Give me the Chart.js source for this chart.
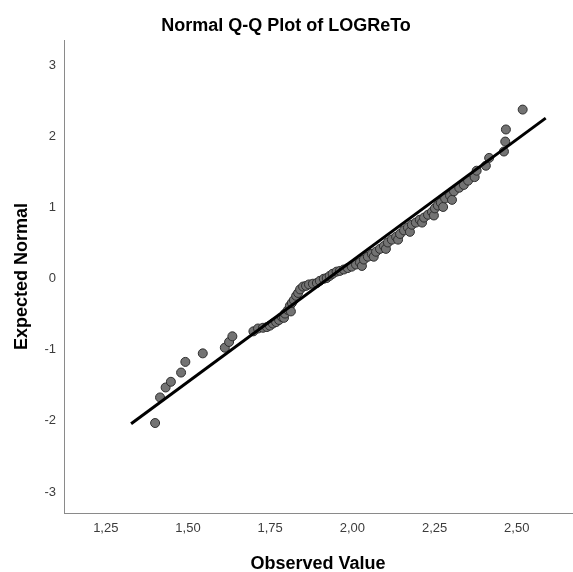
<!DOCTYPE html>
<html>
<head>
<meta charset="utf-8">
<script src="https://cdn.jsdelivr.net/npm/chart.js@4.4.1/dist/chart.umd.min.js"></script>
<style>
  body { margin: 0; background: #fff; }
  #wrap { width: 573px; height: 572px; }
</style>
</head>
<body>
<div id="wrap"><canvas id="qq" width="573" height="572"></canvas></div>
<script>
// valores observados (eje x)
const observed = [
  1.400, 1.415, 1.432, 1.448, 1.479, 1.492, 1.545, 1.612, 1.625, 1.635,
  1.699, 1.713, 1.728, 1.740, 1.749, 1.758, 1.768, 1.777, 1.786, 1.792,
  1.795, 1.804, 1.810, 1.813, 1.816, 1.822, 1.829, 1.835, 1.841, 1.850,
  1.859, 1.868, 1.880, 1.892, 1.901, 1.913, 1.922, 1.931, 1.940, 1.952,
  1.962, 1.974, 1.986, 1.998, 2.011, 2.023, 2.029, 2.035, 2.047, 2.059,
  2.065, 2.072, 2.084, 2.096, 2.102, 2.108, 2.120, 2.133, 2.139, 2.145,
  2.157, 2.169, 2.175, 2.181, 2.193, 2.205, 2.212, 2.218, 2.230, 2.242,
  2.248, 2.251, 2.260, 2.269, 2.276, 2.282, 2.297, 2.303, 2.309, 2.325,
  2.339, 2.352, 2.372, 2.378, 2.406, 2.416, 2.461, 2.465, 2.467, 2.518
];
// normal esperada (eje y)
const expected = [
  -2.03, -1.67, -1.53, -1.45, -1.32, -1.17, -1.05, -0.97, -0.89, -0.81,
  -0.74, -0.70, -0.69, -0.68, -0.66, -0.63, -0.61, -0.58, -0.54, -0.55,
  -0.49, -0.44, -0.38, -0.46, -0.34, -0.30, -0.24, -0.20, -0.15, -0.11,
  -0.10, -0.08, -0.07, -0.06, -0.03, 0.00, 0.01, 0.04, 0.07, 0.10,
  0.11, 0.13, 0.15, 0.17, 0.20, 0.23, 0.18, 0.27, 0.31, 0.35,
  0.31, 0.38, 0.42, 0.46, 0.42, 0.51, 0.55, 0.59, 0.55, 0.63,
  0.68, 0.72, 0.66, 0.76, 0.79, 0.83, 0.79, 0.86, 0.90, 0.94,
  0.89, 0.99, 1.03, 1.07, 1.01, 1.13, 1.17, 1.11, 1.23, 1.28,
  1.32, 1.38, 1.43, 1.52, 1.59, 1.70, 1.79, 1.93, 2.10, 2.38
];
// recta de referencia
const lineX = [1.327, 2.588];
const lineY = [-2.04, 2.26];

const xTicks = [1.25, 1.50, 1.75, 2.00, 2.25, 2.50];
const yTicks = [-3, -2, -1, 0, 1, 2, 3];

const fontFam = '"Liberation Sans", Arial, sans-serif';

const puntos = observed.map((v, i) => ({ x: v, y: expected[i] }));
const recta = lineX.map((v, i) => ({ x: v, y: lineY[i] }));

new Chart(document.getElementById('qq'), {
  type: 'scatter',
  data: {
    datasets: [
      {
        type: 'line',
        data: recta,
        borderColor: '#000',
        borderWidth: 3,
        pointRadius: 0,
        order: 0
      },
      {
        data: puntos,
        backgroundColor: '#737373',
        borderColor: '#2e2e2e',
        borderWidth: 1,
        pointRadius: 4.5,
        order: 1
      }
    ]
  },
  options: {
    responsive: false,
    animation: false,
    layout: { autoPadding: false, padding: { left: 0, right: 1, top: 0, bottom: 0 } },
    plugins: {
      legend: { display: false },
      tooltip: { enabled: false },
      title: {
        display: true,
        text: 'Normal Q-Q Plot of LOGReTo',
        color: '#000',
        font: { family: fontFam, size: 18, weight: 'bold' },
        padding: { top: 15, bottom: 3.4 }
      }
    },
    scales: {
      x: {
        type: 'linear',
        min: 1.1229,
        max: 2.668,
        afterBuildTicks: s => { s.ticks = xTicks.map(v => ({ value: v })); },
        afterFit: s => { s.height = 59; s.paddingLeft = 0; s.paddingRight = 0; },
        grid: { display: false, drawTicks: false },
        border: { display: true, color: '#8a8a8a', width: 1 },
        ticks: {
          padding: 8,
          color: '#3c3c3c',
          font: { family: fontFam, size: 13 },
          callback: v => v.toFixed(2).replace('.', ',')
        },
        title: {
          display: true,
          text: 'Observed Value',
          color: '#000',
          font: { family: fontFam, size: 18, weight: 'bold', lineHeight: 0.9 },
          padding: { top: 0, bottom: 0 }
        }
      },
      y: {
        type: 'linear',
        min: -3.296,
        max: 3.359,
        afterBuildTicks: s => { s.ticks = yTicks.map(v => ({ value: v })); },
        afterFit: s => { s.width = 64; s.paddingTop = 0; s.paddingBottom = 0; },
        grid: { display: false, drawTicks: false },
        border: { display: true, color: '#8a8a8a', width: 1 },
        ticks: {
          padding: 8,
          color: '#3c3c3c',
          font: { family: fontFam, size: 13 },
          callback: v => String(v)
        },
        title: {
          display: true,
          text: 'Expected Normal',
          color: '#000',
          font: { family: fontFam, size: 18, weight: 'bold', lineHeight: 0.9 },
          padding: { top: 14, bottom: 0 }
        }
      }
    }
  }
});
</script>
</body>
</html>
